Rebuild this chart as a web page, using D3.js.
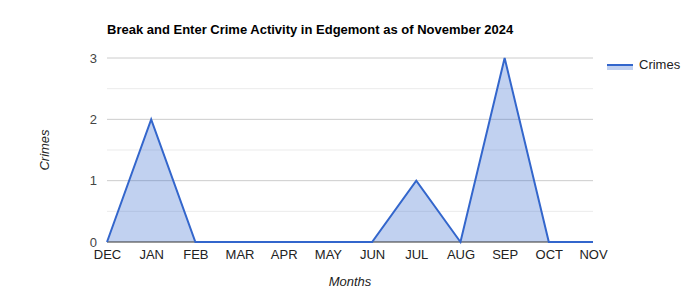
<!DOCTYPE html>
<html>
<head>
<meta charset="utf-8">
<script src="https://cdn.jsdelivr.net/npm/d3@7"></script>
<style>
  body { margin: 0; background: #fff; }
  svg { font-family: "Liberation Sans", Arial, sans-serif; }
</style>
</head>
<body>
<svg id="chart" width="700" height="300"></svg>
<script>
const months = ["DEC", "JAN", "FEB", "MAR", "APR", "MAY", "JUN", "JUL", "AUG", "SEP", "OCT", "NOV"];
const crimes = [0, 2, 0, 0, 0, 0, 0, 1, 0, 3, 0, 0];
const yTicks = [0, 1, 2, 3];
const yMinor = [0.5, 1.5, 2.5];

const svg = d3.select("#chart");
const margin = { top: 58, right: 107, bottom: 58, left: 107 };
const width = 700 - margin.left - margin.right;
const height = 300 - margin.top - margin.bottom;

const x = d3.scalePoint().domain(months).range([margin.left, margin.left + 486]);
const y = d3.scaleLinear().domain([0, 3]).range([margin.top + 184, margin.top]);

// title
svg.append("text")
  .attr("x", 107).attr("y", 34)
  .attr("font-size", 13).attr("font-weight", "bold")
  .text("Break and Enter Crime Activity in Edgemont as of November 2024");

// grid
svg.selectAll(".minor")
  .data(yMinor)
  .enter()
  .append("line")
  .attr("x1", x.range()[0]).attr("x2", x.range()[1])
  .attr("y1", d => y(d)).attr("y2", d => y(d))
  .attr("stroke", "#ebebeb");

svg.selectAll(".major")
  .data(yTicks.slice(1))
  .enter()
  .append("line")
  .attr("x1", x.range()[0]).attr("x2", x.range()[1])
  .attr("y1", d => y(d)).attr("y2", d => y(d))
  .attr("stroke", "#cccccc");

// y axis labels
const yAxis = svg.append("g")
  .attr("transform", `translate(${x.range()[0]}, 0)`)
  .call(d3.axisLeft(y).tickValues(yTicks).tickFormat(d3.format("d")).tickSize(0).tickPadding(10));
yAxis.select(".domain").remove();
yAxis.selectAll("text").attr("font-size", 13).attr("fill", "#444").attr("font-family", "Liberation Sans, Arial, sans-serif");

// area + line
const area = d3.area()
  .x((d, i) => x(months[i]))
  .y0(y(0))
  .y1(d => y(d));

const line = d3.line()
  .x((d, i) => x(months[i]))
  .y(d => y(d));

svg.append("path")
  .datum(crimes)
  .attr("fill", "#3366cc")
  .attr("fill-opacity", 0.3)
  .attr("d", area);

// baseline
svg.append("line")
  .attr("x1", x.range()[0]).attr("x2", x.range()[1])
  .attr("y1", y(0)).attr("y2", y(0))
  .attr("stroke", "#333");

svg.append("path")
  .datum(crimes)
  .attr("fill", "none")
  .attr("stroke", "#3366cc")
  .attr("stroke-width", 2)
  .attr("stroke-linejoin", "miter")
  .attr("d", line);

// x axis labels
const xAxis = svg.append("g")
  .attr("transform", `translate(0, ${y(0)})`)
  .call(d3.axisBottom(x).tickSize(0).tickPadding(8));
xAxis.select(".domain").remove();
xAxis.selectAll("text").attr("font-size", 13).attr("fill", "#222").attr("font-family", "Liberation Sans, Arial, sans-serif");

// axis titles
svg.append("text")
  .attr("x", 350).attr("y", 286)
  .attr("text-anchor", "middle")
  .attr("font-size", 13).attr("font-style", "italic").attr("fill", "#222")
  .text("Months");

svg.append("text")
  .attr("transform", `translate(49, ${y(1.5)}) rotate(-90)`)
  .attr("text-anchor", "middle")
  .attr("font-size", 13).attr("font-style", "italic").attr("fill", "#222")
  .text("Crimes");

// legend
const legend = svg.append("g").attr("transform", "translate(607, 64)");
legend.append("rect")
  .attr("x", 0).attr("y", 0).attr("width", 26).attr("height", 6)
  .attr("fill", "#3366cc").attr("fill-opacity", 0.3);
legend.append("line")
  .attr("x1", 0).attr("x2", 26).attr("y1", 1).attr("y2", 1)
  .attr("stroke", "#3366cc").attr("stroke-width", 2);
legend.append("text")
  .attr("x", 32).attr("y", 5)
  .attr("font-size", 13).attr("fill", "#222")
  .text("Crimes");
</script>
</body>
</html>
